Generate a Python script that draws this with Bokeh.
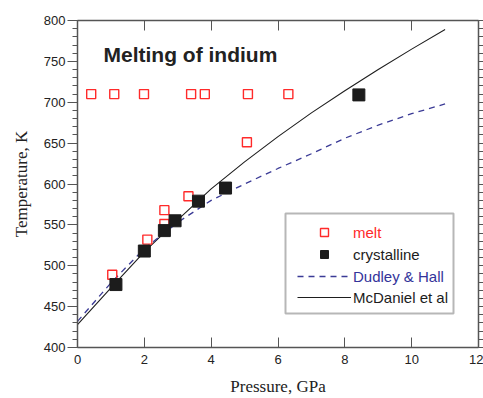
from bokeh.plotting import figure
from bokeh.models import (LinearAxis, SingleIntervalTicker, Range1d, Legend,
                          LegendItem, Label, BoxAnnotation, CustomLabelingPolicy)
from bokeh.embed import file_html
from bokeh.resources import INLINE

# ---- data ----
melt_p = [0.41, 1.10, 1.99, 3.40, 3.81, 5.10, 6.31, 5.07, 3.32, 2.60, 2.60, 2.09, 1.04]
melt_T = [710, 710, 710, 710, 710, 710, 710, 651, 585, 568, 551, 532, 489]

cryst_p = [1.15, 2.00, 2.60, 2.92, 3.62, 4.43, 8.42]
cryst_T = [477, 518, 543, 555, 579, 595, 709]

mcdaniel_p = [0, 1, 2, 3, 4, 5, 6, 7, 8, 9, 10, 11]
mcdaniel_T = [428, 473, 517, 556, 594, 627, 658, 687, 714, 740, 765, 789]

dudley_p = [0, 1, 2, 3, 4, 5, 6, 7, 8, 9, 10, 11]
dudley_T = [432, 479, 521, 553, 580, 600, 619, 637, 656, 672, 686, 698]

x_label = "Pressure, GPa"
y_label = "Temperature, K"
title_text = "Melting of indium"
series_names = ["melt", "crystalline", "Dudley & Hall", "McDaniel et al"]

SANS = "Liberation Sans"
SERIF = "Liberation Serif"
AXIS_COL = "#555555"

p = figure(width=483, height=398, x_range=Range1d(0, 12), y_range=Range1d(400, 800),
           output_backend="svg", toolbar_location=None,
           min_border_left=77, min_border_right=4, min_border_top=20, min_border_bottom=51)
p.xgrid.visible = False
p.ygrid.visible = False
p.outline_line_color = None
p.background_fill_color = "white"
p.border_fill_color = "white"

# bottom axis
xa = p.xaxis[0]
xa.ticker = SingleIntervalTicker(interval=2, num_minor_ticks=0)
xa.major_tick_in = 10
xa.major_tick_out = 0
xa.minor_tick_in = 0
xa.minor_tick_out = 0
xa.major_label_standoff = 7
xa.major_label_text_font = SANS
xa.major_label_text_font_size = "13px"
xa.major_label_text_color = "#222222"
xa.axis_label = x_label
xa.axis_label_text_font = SERIF
xa.axis_label_text_font_style = "normal"
xa.axis_label_text_font_size = "17px"
xa.axis_label_text_color = "#222222"
xa.axis_label_standoff = 10
xa.axis_line_color = AXIS_COL
xa.axis_line_width = 1.5
xa.major_tick_line_color = AXIS_COL

# left axis
ya = p.yaxis[0]
ya.ticker = SingleIntervalTicker(interval=50, num_minor_ticks=5)
ya.major_tick_in = 0
ya.major_tick_out = 10
ya.minor_tick_in = 0
ya.minor_tick_out = 5
ya.major_label_standoff = 2
ya.major_label_text_font = SANS
ya.major_label_text_font_size = "13px"
ya.major_label_text_color = "#222222"
ya.axis_label = y_label
ya.axis_label_text_font = SERIF
ya.axis_label_text_font_style = "normal"
ya.axis_label_text_font_size = "17px"
ya.axis_label_text_color = "#222222"
ya.axis_label_standoff = 10
ya.axis_line_color = AXIS_COL
ya.axis_line_width = 1.5
ya.major_tick_line_color = AXIS_COL
ya.minor_tick_line_color = AXIS_COL

# policy that shows no labels (for the tick-only frame axes)
no_labels = """
for (const i of indices) {
    indices.unset(i)
}
return indices
"""

# top axis (ticks only)
top = LinearAxis(ticker=SingleIntervalTicker(interval=2, num_minor_ticks=0),
                 major_tick_in=10, major_tick_out=0, minor_tick_in=0, minor_tick_out=0,
                 major_label_policy=CustomLabelingPolicy(code=no_labels),
                 major_label_text_font_size="0px", major_label_standoff=0,
                 axis_line_color=AXIS_COL, axis_line_width=1.5, major_tick_line_color=AXIS_COL)
p.add_layout(top, "above")

# right axis (ticks only)
right = LinearAxis(ticker=SingleIntervalTicker(interval=50, num_minor_ticks=5),
                   major_tick_in=0, major_tick_out=5, minor_tick_in=0, minor_tick_out=5,
                   major_label_policy=CustomLabelingPolicy(code=no_labels),
                   major_label_text_font_size="0px", major_label_standoff=0,
                   axis_line_color=AXIS_COL, axis_line_width=1.5,
                   major_tick_line_color=AXIS_COL, minor_tick_line_color=AXIS_COL)
p.add_layout(right, "right")

# ---- series ----
r_mc = p.line(mcdaniel_p, mcdaniel_T, line_color="#1e1e1e", line_width=1.1)
r_dh = p.line(dudley_p, dudley_T, line_color="#3b3b96", line_width=1.3, line_dash="6 5")
r_melt = p.scatter(melt_p, melt_T, marker="square", size=9, fill_color=None,
                   line_color="#ff2a2a", line_width=1.4)
r_cry = p.scatter(cryst_p, cryst_T, marker="square", size=12, fill_color="#1c1c1c",
                  line_color="#1c1c1c")

# ---- legend: one bordered box, one legend per row (each label has its own colour) ----
box = BoxAnnotation(left=208, right=376, bottom=34, top=134,
                    left_units="screen", right_units="screen",
                    bottom_units="screen", top_units="screen",
                    fill_color=None, line_color="#111111", line_width=2)
p.add_layout(box)

renderers = [r_melt, r_cry, r_dh, r_mc]
label_colors = ["#ff2a2a", "#1c1c1c", "#33339a", "#1c1c1c"]
row_bottoms = [105, 83, 61, 40]
for name, rend, col, yb in zip(series_names, renderers, label_colors, row_bottoms):
    leg = Legend(items=[LegendItem(label=name, renderers=[rend])], location=(220, yb),
                 border_line_color=None, background_fill_alpha=0, padding=0, margin=0,
                 spacing=0, glyph_width=54, glyph_height=20, label_height=20,
                 label_standoff=2, label_text_color=col, label_text_font=SANS,
                 label_text_font_size="15px")
    p.add_layout(leg)

# ---- in-plot title ----
p.add_layout(Label(x=26, y=293, x_units="screen", y_units="screen", text=title_text,
                   text_font=SANS, text_font_style="bold", text_font_size="21px",
                   text_color="#222222", text_baseline="alphabetic"))

open("out.html", "w").write(file_html(p, INLINE))
